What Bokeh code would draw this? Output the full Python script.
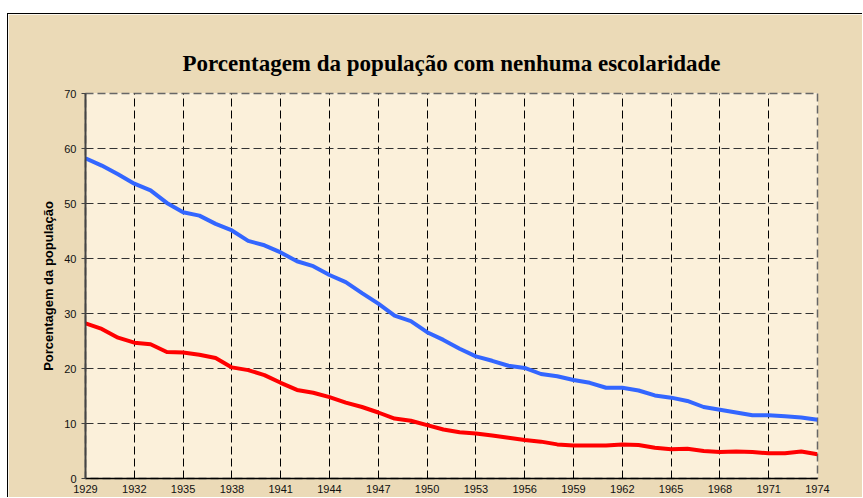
from bokeh.plotting import figure
from bokeh.models import FixedTicker, Spacer
from bokeh.layouts import column, row
from bokeh.embed import file_html
from bokeh.resources import INLINE

years = list(range(1929, 1975))
sem_escolaridade_total = [
    58.2, 56.9, 55.3, 53.6, 52.4, 50.1, 48.4, 47.8, 46.3, 45.1,
    43.2, 42.4, 41.1, 39.5, 38.6, 37.0, 35.7, 33.7, 31.8, 29.6,
    28.6, 26.6, 25.2, 23.6, 22.2, 21.4, 20.5, 20.1, 19.0, 18.6,
    17.9, 17.4, 16.5, 16.5, 16.0, 15.1, 14.7, 14.1, 13.0, 12.5,
    12.0, 11.5, 11.5, 11.3, 11.1, 10.7,
]
sem_escolaridade_outra = [
    28.2, 27.2, 25.6, 24.7, 24.4, 23.0, 22.9, 22.5, 21.9, 20.2,
    19.7, 18.8, 17.4, 16.1, 15.6, 14.8, 13.8, 13.0, 12.0, 10.9,
    10.5, 9.7, 8.9, 8.4, 8.2, 7.8, 7.4, 7.0, 6.7, 6.2,
    6.0, 6.0, 6.0, 6.2, 6.1, 5.6, 5.3, 5.4, 5.0, 4.8,
    4.9, 4.8, 4.6, 4.6, 4.9, 4.4,
]
x_ticks = list(range(1929, 1975, 3))
y_ticks = list(range(0, 71, 10))

title_text = "Porcentagem da população com nenhuma escolaridade"
y_label = "Porcentagem da população"

p = figure(
    width=855, height=484,
    x_range=(1929, 1974), y_range=(0, 70),
    output_backend="svg", toolbar_location=None,
    min_border_left=77, min_border_right=46,
    min_border_top=79, min_border_bottom=20,
    background_fill_color="#fbf0da",
    border_fill_color="#ebdab7",
    styles={"border-top": "1px solid black", "border-left": "1px solid black"},
)

p.title.text = title_text
p.title.text_font = "Liberation Serif"
p.title.text_font_style = "bold"
p.title.text_font_size = "23px"
p.title.text_color = "#000000"
p.title.align = "center"
p.title.standoff = 35

p.outline_line_color = "#666666"
p.outline_line_width = 1.5
p.outline_line_dash = "8 4"

p.xaxis.ticker = FixedTicker(ticks=x_ticks)
p.yaxis.ticker = FixedTicker(ticks=y_ticks)
p.xgrid.ticker = FixedTicker(ticks=x_ticks[1:-1])
p.ygrid.ticker = FixedTicker(ticks=y_ticks[1:-1])

p.xgrid.grid_line_color = "#000000"
p.xgrid.grid_line_width = 1
p.xgrid.grid_line_dash = "8 4"
p.ygrid.grid_line_color = "#333333"
p.ygrid.grid_line_width = 1.2
p.ygrid.grid_line_dash = "8 4"

for ax in (p.xaxis, p.yaxis):
    ax.major_label_text_font = "Liberation Sans"
    ax.major_label_text_font_size = "11px"
    ax.major_label_text_color = "#111111"
    ax.minor_tick_line_color = None

p.xaxis.axis_line_color = "#000000"
p.xaxis.axis_line_width = 1.5
p.xaxis.major_tick_out = 0
p.xaxis.major_tick_in = 0
p.xaxis.major_label_standoff = 6

p.yaxis.axis_line_color = "#444444"
p.yaxis.axis_line_width = 2
p.yaxis.major_tick_line_color = "#444444"
p.yaxis.major_tick_out = 4
p.yaxis.major_tick_in = 0
p.yaxis.major_label_standoff = 5
p.yaxis.axis_label = y_label
p.yaxis.axis_label_text_font = "Liberation Sans"
p.yaxis.axis_label_text_font_style = "bold"
p.yaxis.axis_label_text_font_size = "13px"
p.yaxis.axis_label_text_color = "#000000"
p.yaxis.axis_label_standoff = 5

p.line(years, sem_escolaridade_total, line_color="#3366FF", line_width=4, line_join="round")
p.line(years, sem_escolaridade_outra, line_color="#FF0000", line_width=4, line_join="round")

layout = column(
    Spacer(width=863, height=13),
    row(Spacer(width=7, height=485), p, spacing=0),
    spacing=0,
)

open("out.html", "w").write(file_html(layout, INLINE))
